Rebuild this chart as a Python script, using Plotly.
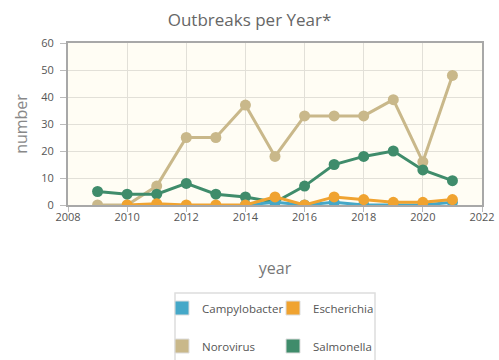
import plotly.graph_objects as go

years = list(range(2009, 2022))
norovirus = [0, 0, 7, 25, 25, 37, 18, 33, 33, 33, 39, 16, 48]
salmonella = [5, 4, 4, 8, 4, 3, 1, 7, 15, 18, 20, 13, 9]
esch_years = list(range(2010, 2022))
escherichia = [0, 0.5, 0, 0, 0, 3, 0, 3, 2, 1, 1, 2]
campy_years = list(range(2014, 2022))
campylobacter = [0, 1, 0, 1, 0, 0, 0, 1]

colors = {
    "Campylobacter": "#45A8C8",
    "Escherichia": "#F0A330",
    "Norovirus": "#C9B88A",
    "Salmonella": "#3F8C6B",
}

FONT = "Open Sans"
W, H = 499, 360
fig = go.Figure()

def add_series(name, xs, ys):
    fig.add_trace(go.Scatter(
        x=xs, y=ys, mode="lines+markers", name=name, showlegend=False,
        line=dict(color=colors[name], width=3),
        marker=dict(color=colors[name], size=11),
        hoverinfo="x+y+name",
    ))

add_series("Norovirus", years, norovirus)
add_series("Salmonella", years, salmonella)
add_series("Campylobacter", campy_years, campylobacter)
add_series("Escherichia", esch_years, escherichia)

# legend swatches
for name, leg in [("Campylobacter", "legend"), ("Escherichia", "legend"),
                  ("Norovirus", "legend2"), ("Salmonella", "legend2")]:
    fig.add_trace(go.Scatter(
        x=[None], y=[None], mode="markers", name=name, legend=leg,
        marker=dict(symbol="square", size=14, color=colors[name],
                    line=dict(color="#dddddd", width=1)),
    ))

legend_common = dict(
    orientation="h", xanchor="left", yanchor="middle",
    xref="container", yref="container",
    font=dict(family=FONT, size=11.5, color="#555555"),
    entrywidth=66, entrywidthmode="pixels",
    itemwidth=30, bgcolor="rgba(0,0,0,0)", borderwidth=0,
)

fig.update_layout(
    width=W, height=H,
    margin=dict(l=68, r=17, t=43, b=155, autoexpand=False),
    paper_bgcolor="white",
    plot_bgcolor="#FFFDF4",
    title=dict(text="Outbreaks per Year*", x=0.5, xanchor="center",
               y=1 - 20 / H, yanchor="middle",
               font=dict(family=FONT, size=17, color="#666666")),
    xaxis=dict(
        range=[2008, 2022], dtick=2, tick0=2008,
        showgrid=True, gridcolor="#E2E0D8", gridwidth=1,
        showline=True, mirror=True, linecolor="#A8A8A8", linewidth=2,
        ticks="outside", ticklen=5, tickcolor="#BBBBBB",
        ticklabelstandoff=-4,
        tickfont=dict(family=FONT, size=11, color="#555555"),
        title=dict(text="year", font=dict(family=FONT, size=16, color="#777777"),
                   standoff=40),
        zeroline=False,
    ),
    yaxis=dict(
        range=[0, 60], dtick=10,
        showgrid=True, gridcolor="#E2E0D8", gridwidth=1,
        showline=True, mirror=True, linecolor="#A8A8A8", linewidth=2,
        ticks="outside", ticklen=6, tickcolor="#BBBBBB",
        ticklabelstandoff=4,
        tickfont=dict(family=FONT, size=11, color="#555555"),
        title=dict(text="number", font=dict(family=FONT, size=16, color="#888888"),
                   standoff=10),
        zeroline=False,
    ),
    legend=dict(x=162 / W, y=1 - 308 / H, **legend_common),
    legend2=dict(x=162 / W, y=1 - 346 / H, **legend_common),
    shapes=[dict(type="rect", xref="paper", yref="paper",
                 x0=(175 - 68) / 414, x1=(375 - 68) / 414,
                 y0=-1.05, y1=(205 - 293) / 162,
                 line=dict(color="#DDDDDD", width=1.5), fillcolor="rgba(0,0,0,0)",
                 layer="below")],
)

fig.write_html("out.html")
